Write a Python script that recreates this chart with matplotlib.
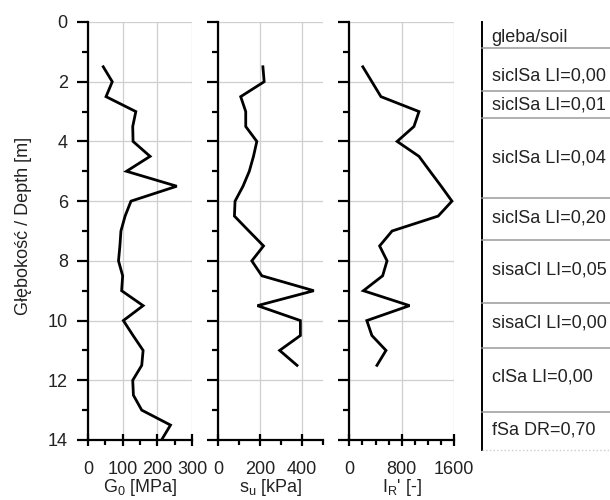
import matplotlib
matplotlib.use("Agg")
import matplotlib.pyplot as plt
from matplotlib.ticker import MultipleLocator

plt.rcParams['font.family'] = ['Liberation Sans', 'DejaVu Sans']
plt.rcParams['mathtext.default'] = 'regular'

# Shear modulus G0 [MPa]
depth_g0 = [1.5, 2.0, 2.5, 3.0, 3.5, 4.0, 4.5, 5.0, 5.5, 6.0, 6.5, 7.0, 7.5, 8.0,
            8.5, 9.0, 9.5, 10.0, 10.5, 11.0, 11.5, 12.0, 12.5, 13.0, 13.5, 14.0]
g0 = [44, 70, 52, 138, 129, 130, 179, 111, 256, 124, 107, 95, 92, 88,
      100, 97, 159, 102, 130, 159, 155, 129, 131, 155, 238, 212]

# Undrained shear strength su [kPa]
depth_su = [1.5, 2.0, 2.5, 3.0, 3.5, 4.0, 4.5, 5.0, 5.5, 6.0, 6.5, 7.0, 7.5, 8.0,
            8.5, 9.0, 9.5, 10.0, 10.5, 11.0, 11.5]
su = [213, 219, 107, 131, 131, 184, 168, 148, 118, 80, 77, 146, 216, 160,
      208, 456, 187, 392, 392, 293, 376]

# Rigidity index IR' [-]
depth_ir = [1.5, 2.0, 2.5, 3.0, 3.5, 4.0, 4.5, 5.0, 5.5, 6.0, 6.5, 7.0, 7.5, 8.0,
            8.5, 9.0, 9.5, 10.0, 10.5, 11.0, 11.5]
ir = [206, 344, 482, 1062, 985, 729, 1062, 1230, 1400, 1564, 1354, 652, 462, 575,
      508, 215, 918, 267, 344, 559, 421]

# Soil description column
soil_labels = ['gleba/soil', 'siclSa LI=0,00', 'siclSa LI=0,01', 'siclSa LI=0,04',
               'siclSa LI=0,20', 'sisaCl LI=0,05', 'sisaCl LI=0,00', 'clSa LI=0,00',
               'fSa DR=0,70']

W, H = 610, 500
fig = plt.figure(figsize=(W / 100, H / 100), dpi=100)


def px_axes(x0, y0, x1, y1):
    return fig.add_axes([x0 / W, 1 - y1 / H, (x1 - x0) / W, (y1 - y0) / H])


panels = [
    dict(box=(88, 22, 192, 440), x=g0, y=depth_g0, xlim=(0, 300), major=100, minor=50,
         label=r'G$_{0}$ [MPa]', yt=True),
    dict(box=(218.3, 22, 323, 440), x=su, y=depth_su, xlim=(0, 500), major=200, minor=100,
         label=r's$_{u}$ [kPa]', yt=False),
    dict(box=(349.3, 22, 454.3, 440), x=ir, y=depth_ir, xlim=(0, 1600), major=800, minor=200,
         label=r"I$_{R}$' [-]", yt=False),
]

text_col = '#222222'
for p in panels:
    ax = px_axes(*p['box'])
    ax.plot(p['x'], p['y'], color='black', lw=2.0, solid_joinstyle='miter')
    ax.set_xlim(*p['xlim'])
    ax.set_ylim(14, 0)
    ax.xaxis.set_major_locator(MultipleLocator(p['major']))
    ax.xaxis.set_minor_locator(MultipleLocator(p['minor']))
    ax.yaxis.set_major_locator(MultipleLocator(2))
    ax.yaxis.set_minor_locator(MultipleLocator(1))
    ax.grid(True, which='major', color='#cfcfcf', lw=0.9)
    ax.set_axisbelow(True)
    for s in ('top', 'right'):
        ax.spines[s].set_visible(False)
    for s in ('left', 'bottom'):
        ax.spines[s].set_linewidth(1.6)
        ax.spines[s].set_color('black')
    # depth axis: outward ticks
    ax.tick_params(axis='y', which='major', length=8, width=1.6, direction='out',
                   color='black', labelsize=13, labelcolor=text_col, pad=6.5,
                   labelleft=p['yt'])
    ax.tick_params(axis='y', which='minor', length=4.3, width=1.6, direction='out',
                   color='black')
    # value axis: crossing major ticks, outward minor ticks
    ax.tick_params(axis='x', which='major', length=8.6, width=1.6, direction='inout',
                   color='black', labelsize=13, labelcolor=text_col, pad=11)
    ax.tick_params(axis='x', which='minor', length=3.5, width=1.6, direction='out',
                   color='black')
    ax.set_xlabel(p['label'], fontsize=13, color=text_col, labelpad=-1)

fig.text(23 / W, 1 - 226 / H, 'Głębokość / Depth [m]', rotation=90, fontsize=13,
         color=text_col, ha='center', va='center')

# Soil table
tx = px_axes(481.7, 22, 610, 450)
tx.set_xlim(481.7, 610)
tx.set_ylim(450, 22)
tx.axis('off')
tx.plot([481.7, 481.7], [22, 450], color='black', lw=1.4, clip_on=False)
row_edges = [48, 90.7, 118.3, 197.7, 240, 303.3, 347.7, 411.7]
for e in row_edges:
    tx.plot([481.7, 610], [e, e], color='#9a9a9a', lw=1.1, clip_on=False)
tx.plot([481.7, 610], [450, 450], color='#cccccc', lw=1, ls=':', clip_on=False)
text_y = [37, 76, 105, 158, 218, 270, 323, 377, 430]
for lbl, yy in zip(soil_labels, text_y):
    tx.text(491.7, yy, lbl, fontsize=13, color=text_col, ha='left', va='center')

fig.savefig('out.png', dpi=100, facecolor='white')
